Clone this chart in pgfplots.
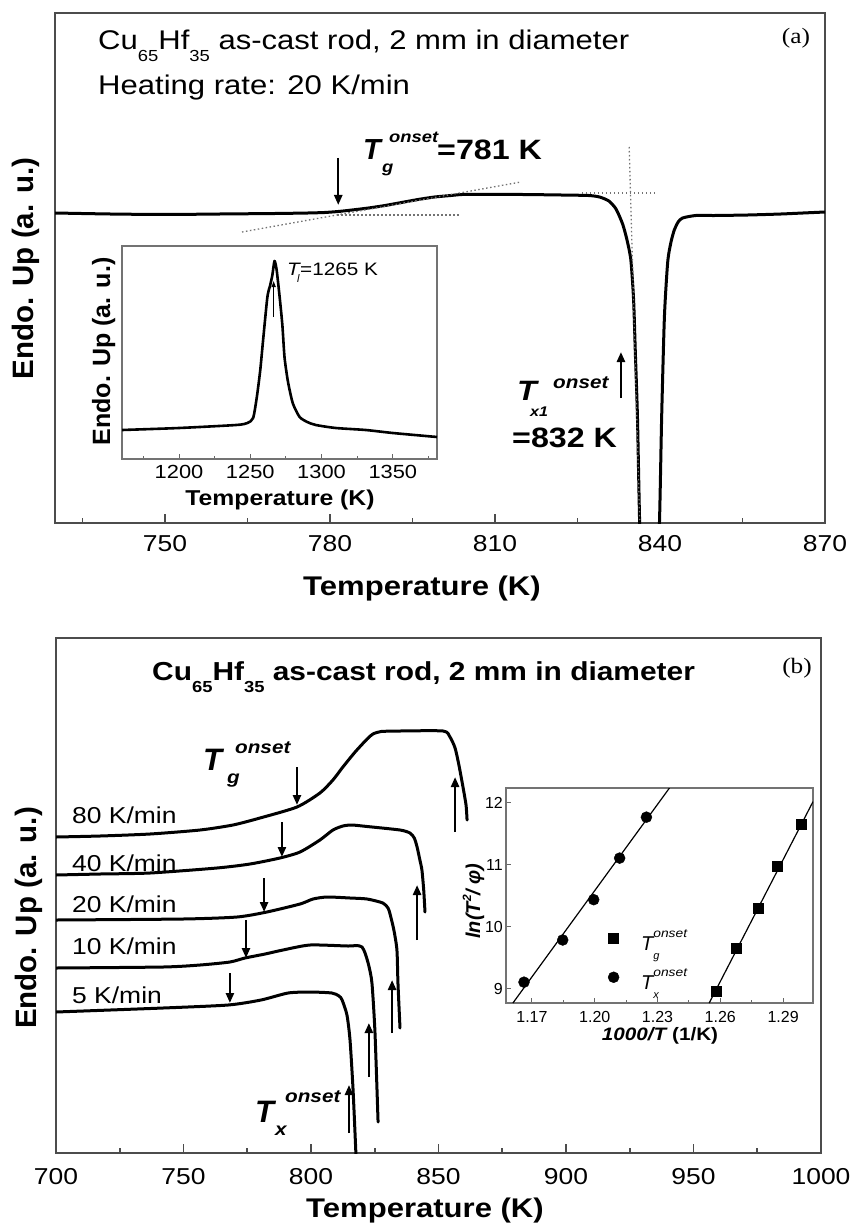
\documentclass[border=0pt]{standalone}
\usepackage{fontspec}
\setmainfont{Liberation Sans}
\newfontfamily\serif{Liberation Serif}
\usepackage{graphicx}
\usepackage{pgfplots}
\pgfplotsset{compat=1.18}
\usetikzlibrary{arrows.meta}
\newcommand\fs[1]{\fontsize{#1}{#1}\selectfont}
\newcommand\hs[1]{\scalebox{1.15}[1]{#1}}
\newcommand\bi{\bfseries\itshape}
\newcommand\Tleg[1]{\hspace*{22pt}{\fs{20}\itshape T}\rlap{\smash{\raisebox{-9pt}{\fs{11}\itshape #1}}}\smash{\raisebox{13pt}{\fs{12}\itshape\hs{onset}}}}
\tikzset{arr/.style={black, line width=2.4pt, -{Triangle[length=10pt,width=8pt]}}}
\pgfplotsset{
  frameax/.style={scale only axis, axis line style={draw=black!70, line width=1.8pt},
    tick align=inside, xtick pos=left, ytick=\empty, major tick length=9pt, minor tick length=5pt,
    every tick/.style={black!70, line width=1.6pt},
    xticklabel style={font=\fs{23}, anchor=north, inner sep=0pt}},
  curve/.style={black, line width=3pt, line join=round, line cap=round, smooth, tension=0.4, no marks},
  dots/.style={black!55, line width=1.3pt, dash pattern=on 1.5pt off 2.5pt, no marks},
}
\begin{document}
\begin{tikzpicture}
\useasboundingbox (0pt,0pt) rectangle (852pt,-1225pt);

% ---------------- panel (a) ----------------
\begin{axis}[frameax, at={(55pt,-523pt)}, anchor=south west, width=770pt, height=510pt,
  xmin=730, xmax=870, ymin=-523, ymax=-13,
  xtick={750,780,810,840,870}, xticklabels={\hs{750},\hs{780},\hs{810},\hs{840},\hs{870}},
  minor xtick={735,765,795,825,855}, xticklabel style={yshift=-12pt}]
\addplot[curve] coordinates {(730,-213) (740,-214) (750,-214.5) (760,-214) (770,-213.5) (776,-213) (779,-212.5) (781.5,-211.5) (784,-210) (787,-208) (790,-205.5) (793,-202.5) (796,-199.5) (799,-197) (802,-195.5) (804,-194.5) (808,-194.5) (815,-194.5) (822,-195) (827,-195.5) (829,-197) (830.7,-201) (832,-209) (833.2,-224) (834,-240) (834.7,-260) (835.2,-300) (835.5,-350) (835.9,-417) (836.3,-523) (836.8,-600) (838,-640) (839.3,-600) (839.9,-523) (840.3,-417) (840.8,-317) (841.4,-262) (842,-242) (842.6,-230) (843.3,-222) (844.1,-218) (846.5,-215.5) (850,-215.5) (856,-215) (862,-214) (866,-213) (870,-212)};
\addplot[dots] coordinates {(764.0,-232) (814.7,-182)};
\addplot[dots] coordinates {(781.3,-215) (803.8,-215)};
\addplot[dots] coordinates {(825.8,-193) (839.0,-193)};
\addplot[dots] coordinates {(834.4,-147) (836.3,-520)};
\draw[arr] (axis cs:781.5,-158) -- (axis cs:781.5,-205);
\draw[arr] (axis cs:832.9,-398) -- (axis cs:832.9,-352);
\end{axis}

% inset (a)
\begin{axis}[scale only axis, at={(122pt,-459pt)}, anchor=south west, width=315pt, height=213pt,
  axis background/.style={fill=white},
  axis line style={draw=black!55, line width=1.3pt},
  tick align=inside, xtick pos=left, ytick=\empty, major tick length=5pt, minor tick length=3pt,
  every tick/.style={black!60, line width=1pt},
  xmin=1160, xmax=1381, ymin=-459, ymax=-246,
  xtick={1200,1250,1300,1350}, xticklabels={\hs{1200},\hs{1250},\hs{1300},\hs{1350}},
  minor xtick={1175,1225,1275,1325,1375},
  xticklabel style={font=\fs{19}, anchor=north, inner sep=0pt, yshift=-6pt}]
\addplot[black, line width=2.6pt, line join=round, smooth, tension=0.4, no marks] coordinates {(1160,-430) (1200,-428) (1240,-425) (1248,-423) (1252,-418) (1254.6,-397) (1257,-370) (1259,-340) (1262,-297) (1264,-285) (1265.5,-275) (1267,-261) (1268.5,-270) (1270.6,-297) (1272.5,-325) (1274,-357) (1276,-378) (1277.6,-390) (1280,-404) (1284.6,-417) (1290,-422) (1296,-425) (1310,-428) (1331,-430) (1350,-433) (1381,-437)};
\draw[black, line width=1.3pt, -{Triangle[length=6pt,width=4pt]}] (axis cs:1266.4,-317) -- (axis cs:1266.4,-281);
\end{axis}

% texts (a)
\node[anchor=base west, inner sep=0pt] at (98pt,-50pt) {\fs{27}\hs{Cu\raisebox{-12pt}{\fs{16}65}Hf\raisebox{-12pt}{\fs{16}35} as-cast rod, 2 mm in diameter}};
\node[anchor=base west, inner sep=0pt] at (98pt,-95pt) {\fs{27}\hs{Heating rate: 20 K/min}};
\node[anchor=base, inner sep=0pt] at (796pt,-44pt) {\serif\fs{22}\hs{(a)}};
\node[anchor=base west, inner sep=0pt] at (363pt,-160pt) {\fs{29}\bi T};
\node[anchor=base west, inner sep=0pt] at (389pt,-143pt) {\fs{16}\bi\hs{onset}};
\node[anchor=base west, inner sep=0pt] at (382pt,-173pt) {\fs{16}\bi\hs{g}};
\node[anchor=base west, inner sep=0pt] at (437pt,-160pt) {\fs{28}\bfseries\hs{=781 K}};
\node[anchor=base west, inner sep=0pt] at (517pt,-400pt) {\fs{28}\bi\hs{T}};
\node[anchor=base west, inner sep=0pt] at (553pt,-388pt) {\fs{18}\bi\hs{onset}};
\node[anchor=base west, inner sep=0pt] at (530pt,-416pt) {\fs{14}\bi\hs{x1}};
\node[anchor=base west, inner sep=0pt] at (512pt,-447pt) {\fs{28}\bfseries\hs{=832 K}};
\node[anchor=base west, inner sep=0pt] at (287pt,-275pt) {\fs{18}\itshape\hs{T}};
\node[anchor=base west, inner sep=0pt] at (297pt,-282pt) {\fs{11}\itshape l};
\node[anchor=base west, inner sep=0pt] at (300pt,-275pt) {\fs{18}\hs{=1265 K}};
\node[anchor=base, inner sep=0pt] at (422pt,-595pt) {\fs{27}\bfseries\hs{Temperature (K)}};
\node[anchor=base, rotate=90, inner sep=0pt] at (33pt,-268.5pt) {\fs{29.5}\bfseries Endo. Up (a. u.)};
\node[anchor=base, inner sep=0pt] at (280pt,-505pt) {\fs{21.5}\bfseries\hs{Temperature (K)}};
\node[anchor=base, rotate=90, inner sep=0pt] at (110pt,-351.5pt) {\fs{25}\bfseries Endo. Up (a. u.)};

% ---------------- panel (b) ----------------
\begin{axis}[frameax, at={(56pt,-1153pt)}, anchor=south west, width=765pt, height=515pt,
  xmin=700, xmax=1000, ymin=-1153, ymax=-638,
  xtick={700,750,800,850,900,950,1000},
  xticklabels={\hs{700},\hs{750},\hs{800},\hs{850},\hs{900},\hs{950},\hs{1000}},
  minor xtick={725,775,825,875,925,975}, xticklabel style={yshift=-15pt}]
% 80 K/min
\addplot[curve] coordinates {(700,-837) (717.3,-836) (736.9,-834) (756.5,-830) (769.4,-825) (780.0,-818) (794.5,-807) (803.5,-793) (808.6,-780) (812.5,-767) (817.3,-752) (822.0,-739) (824.3,-734) (827.5,-731.5) (834.9,-731) (851.8,-731) (854.5,-737) (856.5,-748) (858.0,-765) (859.6,-787) (860.8,-805) (861.2,-820)};
% 40 K/min
\addplot[curve] coordinates {(700,-875) (717.3,-874) (736.9,-873) (763.1,-868) (776.1,-864) (787.8,-858) (795.7,-852) (803.5,-840) (808.6,-830) (812.5,-826) (816,-825) (822.0,-826.5) (834.9,-830) (838.8,-833) (840.5,-838) (841.6,-847) (842.7,-860) (843.5,-870) (844.2,-890) (844.7,-912)};
% 20 K/min
\addplot[curve] coordinates {(700,-920) (749.8,-919) (771.0,-917) (782.7,-912) (795.7,-904) (800.8,-899) (806.3,-897) (815.3,-898) (822.0,-899) (828.2,-903) (830.2,-908) (831.0,-914) (832.5,-930) (833.7,-950) (834.1,-983) (834.9,-1028)};
% 10 K/min
\addplot[curve] coordinates {(700,-968) (742.0,-967) (756.5,-965) (768.2,-962) (774.1,-958) (782.0,-954) (789.0,-950) (799.6,-945) (814.5,-946) (818.0,-945.5) (820,-947) (821.2,-953) (822.6,-965) (823.9,-983) (825.1,-1033) (826.3,-1122)};
% 5 K/min
\addplot[curve] coordinates {(700,-1012) (742.0,-1008) (767.5,-1005) (780.4,-1000) (791.0,-993) (799.6,-992) (808.2,-993) (811,-996) (812.2,-1000) (814.1,-1015) (815.3,-1040) (816.5,-1090) (817.6,-1153) (818.0,-1175)};
% Tg arrows
\draw[arr] (axis cs:794.5,-767) -- (axis cs:794.5,-805);
\draw[arr] (axis cs:788.6,-822) -- (axis cs:788.6,-857);
\draw[arr] (axis cs:781.6,-878) -- (axis cs:781.6,-912);
\draw[arr] (axis cs:774.5,-920) -- (axis cs:774.5,-958);
\draw[arr] (axis cs:768.2,-973) -- (axis cs:768.2,-1003);
% Tx arrows
\draw[arr] (axis cs:856.5,-832) -- (axis cs:856.5,-777);
\draw[arr] (axis cs:841.6,-940) -- (axis cs:841.6,-885);
\draw[arr] (axis cs:831.8,-1033) -- (axis cs:831.8,-980);
\draw[arr] (axis cs:822.7,-1077) -- (axis cs:822.7,-1023);
\draw[arr] (axis cs:814.9,-1133) -- (axis cs:814.9,-1085);
\end{axis}

% inset (b)
\begin{axis}[scale only axis, at={(506pt,-1003pt)}, anchor=south west, width=307pt, height=215pt,
  axis background/.style={fill=white},
  axis line style={draw=black!55, line width=1.3pt},
  tick align=inside, xtick pos=left, ytick pos=left, major tick length=5pt, minor tick length=3pt,
  every tick/.style={black!60, line width=1pt},
  xmin=1.1576, xmax=1.3043, ymin=8.774, ymax=12.24,
  xtick={1.17,1.20,1.23,1.26,1.29}, xticklabels={1.17,1.20,1.23,1.26,1.29},
  minor xtick={1.185,1.215,1.245,1.275},
  ytick={9,10,11,12}, yticklabels={9,10,11,12},
  xticklabel style={font=\fs{16}, anchor=north, inner sep=0pt, yshift=-8pt},
  yticklabel style={font=\fs{16}, anchor=east, inner sep=0pt, xshift=-3pt},
  legend style={at={(0.332,0.326)}, anchor=north west, draw=none, fill=none, inner sep=0pt,
    nodes={inner sep=0pt}, row sep=20pt},
  legend cell align=left,
  legend image code/.code={\draw[#1] plot coordinates {(0pt,6pt)};}]
\addplot[only marks, mark=square*, mark size=5pt, black] coordinates {(1.2581,8.97) (1.2676,9.66) (1.2781,10.31) (1.2871,10.98) (1.2986,11.66)};
\addlegendentry{\Tleg{g}}
\addplot[only marks, mark=*, mark size=5.5pt, black] coordinates {(1.1662,9.11) (1.1847,9.79) (1.1995,10.44) (1.2119,11.11) (1.2247,11.77)};
\addlegendentry{\Tleg{x}}
\addplot[forget plot, black, line width=1.2pt, no marks] coordinates {(1.1609,8.774) (1.2357,12.24)};
\addplot[forget plot, black, line width=1.2pt, no marks] coordinates {(1.2547,8.774) (1.3043,12.02)};
\end{axis}

% texts (b)
\node[anchor=base west, inner sep=0pt] at (152pt,-680pt) {\fs{26}\bfseries\hs{Cu\raisebox{-12pt}{\fs{16}65}Hf\raisebox{-12pt}{\fs{16}35} as-cast rod, 2 mm in diameter}};
\node[anchor=base, inner sep=0pt] at (797pt,-673pt) {\serif\fs{22}\hs{(b)}};
\node[anchor=base west, inner sep=0pt] at (72pt,-823pt) {\fs{23}\hs{80 K/min}};
\node[anchor=base west, inner sep=0pt] at (72pt,-871pt) {\fs{23}\hs{40 K/min}};
\node[anchor=base west, inner sep=0pt] at (72pt,-912pt) {\fs{23}\hs{20 K/min}};
\node[anchor=base west, inner sep=0pt] at (72pt,-954pt) {\fs{23}\hs{10 K/min}};
\node[anchor=base west, inner sep=0pt] at (72pt,-1003pt) {\fs{23}\hs{5 K/min}};
\node[anchor=base west, inner sep=0pt] at (203pt,-770pt) {\fs{31}\bi T};
\node[anchor=base west, inner sep=0pt] at (235pt,-753pt) {\fs{18}\bi\hs{onset}};
\node[anchor=base west, inner sep=0pt] at (227pt,-783pt) {\fs{18}\bi\hs{g}};
\node[anchor=base west, inner sep=0pt] at (255pt,-1122pt) {\fs{31}\bi T};
\node[anchor=base west, inner sep=0pt] at (285pt,-1102pt) {\fs{18}\bi\hs{onset}};
\node[anchor=base west, inner sep=0pt] at (275pt,-1135pt) {\fs{18}\bi\hs{x}};
\node[anchor=base, inner sep=0pt] at (425pt,-1217pt) {\fs{27}\bfseries\hs{Temperature (K)}};
\node[anchor=base, rotate=90, inner sep=0pt] at (36pt,-918pt) {\fs{29.5}\bfseries Endo. Up (a. u.)};
\node[anchor=base, inner sep=0pt] at (660pt,-1040pt) {\fs{18}\hs{{\bi 1000/T} \bfseries (1/K)}};
\node[anchor=base, rotate=90, inner sep=0pt] at (480pt,-901pt) {\fs{20}\bi ln(T\raisebox{0.45em}{\fs{12}2}/ φ)};
\end{tikzpicture}
\end{document}
